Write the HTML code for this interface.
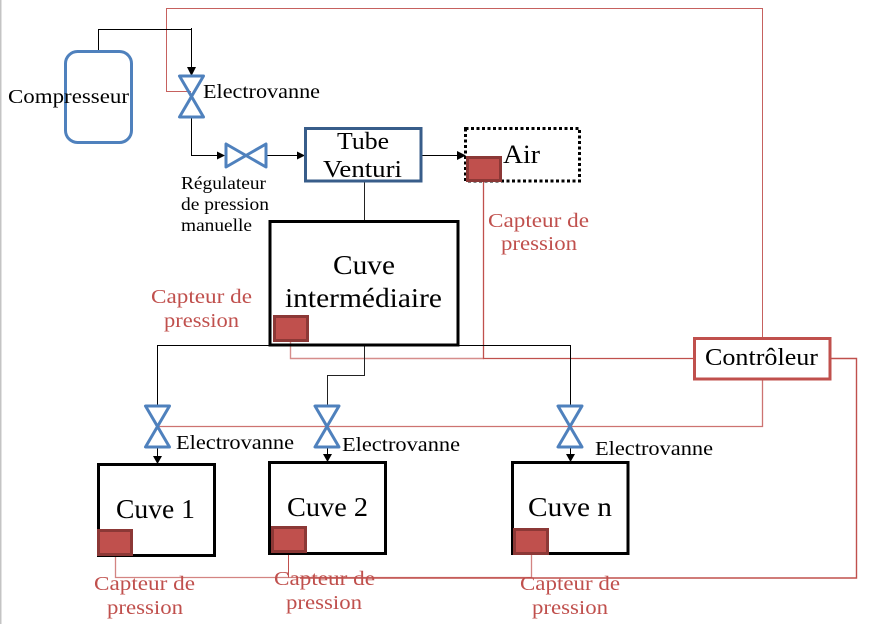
<!DOCTYPE html>
<html><head><meta charset="utf-8"><style>
html,body{margin:0;padding:0;background:#fff}
svg{display:block}
text{font-family:"Liberation Serif",serif;fill:#000}
.r{fill:#c0504d;font-size:20px}
.v{font-size:20px}
.l{font-size:27px}
</style></head><body>
<svg width="880" height="624" viewBox="0 0 880 624" xmlns="http://www.w3.org/2000/svg">
<defs>
<g id="hv"><path d="M-12,-20.5H12L-12,20.5H12Z" fill="none" stroke="#4f81bd" stroke-width="3" stroke-linejoin="round"/></g>
</defs>
<rect x="0" y="0" width="1.5" height="624" fill="#c4c4c4"/>

<!-- red wires -->
<g fill="none" stroke="#c0504d" stroke-width="1">
<path d="M191,91.5H166.5V8.5H762.5V338" stroke-opacity=".9"/>
<path d="M483.5,181V358.5H693" stroke-width="1.3"/>
<path d="M290.5,341V358.5H484" stroke-opacity=".65" stroke-width="1.4"/>
<path d="M157,426.5H762.5V379" stroke-opacity=".8" stroke-width="1.3"/>
<path d="M831,358.5H856.5V578H300" stroke-width="1.4"/>
<path d="M115.5,555V577.5H531.5V555" stroke-opacity=".7" stroke-width="1.3"/>
<path d="M288.5,552V577.5"/>
</g>

<!-- black wires -->
<g fill="none" stroke="#000" stroke-width="1">
<path d="M98.500,51V29.500H191.500"/>
<path d="M191.500,28V68"/>
<path d="M191.500,117V155.500H218"/>
<path d="M267,155.500H298"/>
<path d="M421,155.500H458"/>
<path d="M364.500,181V221" stroke="#222"/>
<path d="M269,345.500H157.500V406"/>
<path d="M458,345.500H570.500V406"/>
<path d="M364.500,345V375.500H327.500V406" stroke="#222"/>
<path d="M157.500,447V458"/>
<path d="M327.500,447V456"/>
<path d="M570.500,447V456"/>
</g>
<g fill="#000">
<path d="M187,67H196L191.500,76Z"/>
<path d="M217,151.500V159.500L225,155.500Z"/>
<path d="M297,151.500V159.500L305,155.500Z"/>
<path d="M457,151V160L466,155.500Z"/>
<path d="M153,456H162L157.500,464Z"/>
<path d="M323,454H332L327.500,462Z"/>
<path d="M566,454H575L570.500,462Z"/>
</g>

<!-- valves -->
<use href="#hv" x="191.500" y="96.500"/>
<use href="#hv" x="157.500" y="426.500"/>
<use href="#hv" x="327" y="426.500"/>
<use href="#hv" x="570" y="426.500"/>
<path d="M226,144V167L266,144V167Z" fill="none" stroke="#4f81bd" stroke-width="3" stroke-linejoin="round"/>

<!-- boxes -->
<rect x="65.500" y="51.500" width="66" height="91" rx="12" fill="none" stroke="#4f81bd" stroke-width="3"/>
<rect x="305.500" y="128.500" width="115.500" height="52.500" fill="none" stroke="#385d8a" stroke-width="3"/>
<rect x="465.500" y="128.500" width="114" height="52.500" fill="none" stroke="#000" stroke-width="3" stroke-dasharray="3 2.500"/>
<rect x="270" y="221.500" width="188" height="123.500" fill="none" stroke="#000" stroke-width="3"/>
<rect x="694.500" y="338.500" width="135.500" height="40.500" fill="#fff" stroke="#c0504d" stroke-width="3"/>
<rect x="98.500" y="464.500" width="116" height="91" fill="none" stroke="#000" stroke-width="3"/>
<rect x="269.500" y="462.500" width="116" height="91" fill="none" stroke="#000" stroke-width="3"/>
<rect x="512.500" y="462.500" width="115.500" height="91" fill="none" stroke="#000" stroke-width="3"/>

<!-- sensors -->
<g fill="#c0504d" stroke="#8c3836" stroke-width="3">
<rect x="467.500" y="157.500" width="33" height="23"/>
<rect x="274.500" y="316.500" width="33" height="24"/>
<rect x="98.500" y="530.500" width="33" height="24"/>
<rect x="272.500" y="527.500" width="33" height="24"/>
<rect x="514.500" y="529.500" width="33" height="24"/>
</g>

<!-- labels -->
<text class="v" x="8" y="103" textLength="121" lengthAdjust="spacingAndGlyphs">Compresseur</text>
<text class="v" x="203" y="98" textLength="117" lengthAdjust="spacingAndGlyphs">Electrovanne</text>
<text x="181" y="189" font-size="18" textLength="85" lengthAdjust="spacingAndGlyphs">Régulateur</text>
<text x="181" y="210" font-size="18" textLength="88" lengthAdjust="spacingAndGlyphs">de pression</text>
<text x="181" y="231" font-size="18" textLength="71" lengthAdjust="spacingAndGlyphs">manuelle</text>
<text x="337" y="149" font-size="24" textLength="52" lengthAdjust="spacingAndGlyphs">Tube</text>
<text x="323" y="177" font-size="24" textLength="79" lengthAdjust="spacingAndGlyphs">Venturi</text>
<text x="503" y="163" font-size="26" textLength="37" lengthAdjust="spacingAndGlyphs">Air</text>
<text class="r" x="488" y="227" textLength="101" lengthAdjust="spacingAndGlyphs">Capteur de</text>
<text class="r" x="501" y="250" textLength="76" lengthAdjust="spacingAndGlyphs">pression</text>
<text class="l" x="333" y="274" textLength="62" lengthAdjust="spacingAndGlyphs">Cuve</text>
<text class="l" x="285" y="307" textLength="157" lengthAdjust="spacingAndGlyphs">intermédiaire</text>
<text class="r" x="151" y="303" textLength="101" lengthAdjust="spacingAndGlyphs">Capteur de</text>
<text class="r" x="164" y="327" textLength="75" lengthAdjust="spacingAndGlyphs">pression</text>
<text x="705" y="365" font-size="24" textLength="113" lengthAdjust="spacingAndGlyphs">Contrôleur</text>
<text class="v" x="176" y="449" textLength="118" lengthAdjust="spacingAndGlyphs">Electrovanne</text>
<text class="v" x="342" y="451" textLength="118" lengthAdjust="spacingAndGlyphs">Electrovanne</text>
<text class="v" x="595" y="455" textLength="118" lengthAdjust="spacingAndGlyphs">Electrovanne</text>
<text class="l" x="116" y="518" textLength="79" lengthAdjust="spacingAndGlyphs">Cuve 1</text>
<text class="l" x="287" y="516" textLength="81" lengthAdjust="spacingAndGlyphs">Cuve 2</text>
<text class="l" x="528" y="516" textLength="84" lengthAdjust="spacingAndGlyphs">Cuve n</text>
<text class="r" x="94" y="590" textLength="101" lengthAdjust="spacingAndGlyphs">Capteur de</text>
<text class="r" x="107" y="614" textLength="76" lengthAdjust="spacingAndGlyphs">pression</text>
<text class="r" x="274" y="585" textLength="101" lengthAdjust="spacingAndGlyphs">Capteur de</text>
<text class="r" x="286" y="609" textLength="76" lengthAdjust="spacingAndGlyphs">pression</text>
<text class="r" x="520" y="590" textLength="100" lengthAdjust="spacingAndGlyphs">Capteur de</text>
<text class="r" x="532" y="614" textLength="76" lengthAdjust="spacingAndGlyphs">pression</text>
</svg>
</body></html>
